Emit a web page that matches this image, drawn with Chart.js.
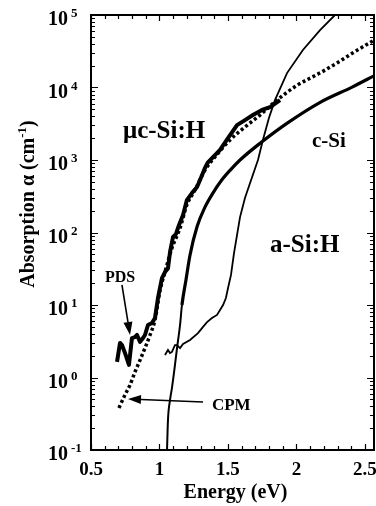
<!DOCTYPE html>
<html>
<head>
<meta charset="utf-8">
<script src="https://cdn.jsdelivr.net/npm/chart.js@4"></script>
<style>
  html, body { margin: 0; padding: 0; background: #fff; }
  #wrap { width: 376px; height: 506px; }
</style>
</head>
<body>
<div id="wrap"><canvas id="chart" width="376" height="506"></canvas></div>
<script>
// energy (eV) / absorption (cm-1)
var cSiE   = [1.055, 1.062, 1.077, 1.091, 1.113, 1.128, 1.15, 1.164, 1.193, 1.223, 1.274, 1.332, 1.39, 1.449, 1.515, 1.588, 1.734, 1.93, 2.17, 2.41, 2.566];
var cSiA   = [0.1, 0.26, 0.49, 0.72, 1.49, 2.55, 5.3, 10, 22, 49, 120, 224, 350, 513, 720, 1000, 1700, 3200, 6200, 10200, 14500];

var aSiE   = [1.04, 1.062, 1.077, 1.091, 1.113, 1.128, 1.15, 1.172, 1.223, 1.281, 1.318, 1.347, 1.383, 1.42, 1.464, 1.485, 1.50, 1.522, 1.544, 1.566, 1.588, 1.624, 1.66, 1.719, 1.755, 1.799, 1.843, 1.931, 2.047, 2.172, 2.281];
var aSiA   = [2.04, 2.4, 2.18, 2.25, 2.8, 2.8, 2.55, 2.9, 3.3, 4.1, 5.0, 5.8, 6.6, 7.3, 10, 12.5, 17, 26, 52, 92, 163, 300, 475, 1000, 1890, 3800, 6700, 15800, 32900, 62000, 100000];

var pdsE   = [0.69, 0.712, 0.726, 0.748, 0.777, 0.799, 0.821, 0.836, 0.858, 0.88, 0.894, 0.916, 0.945, 0.967, 0.989, 1.018, 1.04, 1.062, 1.077, 1.099, 1.12, 1.142, 1.172, 1.20, 1.237, 1.274, 1.296, 1.332, 1.354, 1.398, 1.442, 1.50, 1.566, 1.624, 1.682, 1.748, 1.807, 1.88];
var pdsA   = [1.64, 3.0, 2.8, 2.18, 1.49, 3.5, 3.6, 3.86, 3.1, 3.5, 3.86, 5.3, 5.65, 6.6, 12.5, 23.5, 28.5, 32, 54, 87, 95, 126, 175, 280, 350, 425, 530, 775, 930, 1135, 1380, 2000, 3030, 3550, 4170, 4900, 5370, 6700];

var cpmE   = [0.704, 0.748, 0.785, 0.821, 0.858, 0.894, 0.931, 0.967, 1.004, 1.04, 1.091, 1.15, 1.20, 1.259, 1.332, 1.405, 1.515, 1.624, 1.734, 1.858, 2.004, 2.17, 2.296, 2.41, 2.566];
var cpmA   = [0.38, 0.575, 0.79, 1.19, 1.74, 2.55, 3.86, 6.2, 16, 28.5, 61, 115, 240, 385, 725, 1100, 1890, 2850, 4170, 6700, 10700, 15800, 21800, 29900, 45000];

var xTicks = [0.5, 1, 1.5, 2, 2.5];
var xTickLabels = ['0.5', '1', '1.5', '2', '2.5'];
var yExps  = [-1, 0, 1, 2, 3, 4, 5];

var SERIF = '"Liberation Serif", "DejaVu Serif", serif';

function pts(xs, ys) {
  return xs.map(function(x, i) { return { x: x, y: ys[i] }; });
}

// frame, inward ticks, labels and arrows
var decor = {
  id: 'decor',
  afterDraw: function(chart) {
    var ctx = chart.ctx, a = chart.chartArea;
    var xs = chart.scales.x, ys = chart.scales.y;
    ctx.save();
    ctx.strokeStyle = '#000';
    ctx.fillStyle = '#000';

    ctx.lineWidth = 2;
    ctx.strokeRect(a.left, a.top, a.right - a.left, a.bottom - a.top);

    ctx.lineWidth = 1.2;
    ctx.beginPath();
    for (var e = 5; e <= 25; e++) {
      var px = Math.round(xs.getPixelForValue(e / 10)) + 0.5;
      var len = (e % 5 === 0) ? 6 : 4;
      ctx.moveTo(px, a.bottom); ctx.lineTo(px, a.bottom - len);
      ctx.moveTo(px, a.top); ctx.lineTo(px, a.top + len);
    }
    for (var d = -1; d < 5; d++) {
      for (var m = 1; m < 10; m++) {
        var py = Math.round(ys.getPixelForValue(m * Math.pow(10, d))) + 0.5;
        var l = (m === 1) ? 7 : 4;
        ctx.moveTo(a.left, py); ctx.lineTo(a.left + l, py);
        ctx.moveTo(a.right, py); ctx.lineTo(a.right - l, py);
      }
    }
    ctx.stroke();

    // y tick labels 10^n
    yExps.forEach(function(n) {
      var py = ys.getPixelForValue(Math.pow(10, n));
      ctx.font = 'bold 20px ' + SERIF;
      ctx.textAlign = 'right';
      ctx.textBaseline = 'alphabetic';
      ctx.fillText('10', 68, py + 10);
      ctx.font = 'bold 13px ' + SERIF;
      ctx.textAlign = 'left';
      ctx.fillText(n < 0 ? '-' + (-n) : String(n), 71, py + 2);
    });

    // x tick labels
    ctx.font = 'bold 19px ' + SERIF;
    ctx.textAlign = 'center';
    xTicks.forEach(function(v, i) {
      ctx.fillText(xTickLabels[i], xs.getPixelForValue(v), 475);
    });

    ctx.font = 'bold 20px ' + SERIF;
    ctx.fillText('Energy (eV)', (a.left + a.right) / 2 + 3, 498);

    // y title, rotated, with superscript
    ctx.save();
    ctx.translate(34, 204);
    ctx.rotate(-Math.PI / 2);
    var f1 = 'bold 20px ' + SERIF, f2 = 'bold 13px ' + SERIF;
    ctx.font = f1;
    var t1 = 'Absorption \u03b1 (cm', t3 = ')';
    var w1 = ctx.measureText(t1).width, w3 = ctx.measureText(t3).width;
    ctx.font = f2;
    var w2 = ctx.measureText('-1').width;
    var x0 = -(w1 + w2 + w3) / 2;
    ctx.textAlign = 'left';
    ctx.font = f1; ctx.fillText(t1, x0, 0);
    ctx.font = f2; ctx.fillText('-1', x0 + w1, -8);
    ctx.font = f1; ctx.fillText(t3, x0 + w1 + w2, 0);
    ctx.restore();

    // curve labels at data positions
    function label(txt, e, al, size) {
      ctx.font = 'bold ' + size + 'px ' + SERIF;
      ctx.textAlign = 'left';
      ctx.fillText(txt, xs.getPixelForValue(e), ys.getPixelForValue(al));
    }
    label('\u03bcc-Si:H', 0.7336, 2010, 25);
    label('c-Si', 2.113, 1510, 21);
    label('a-Si:H', 1.8066, 53.8, 25);
    label('PDS', 0.602, 20.7, 16);
    label('CPM', 1.383, 0.356, 17);

    // arrows
    function arrow(e0, a0, e1, a1) {
      var x0 = xs.getPixelForValue(e0), y0 = ys.getPixelForValue(a0);
      var x1 = xs.getPixelForValue(e1), y1 = ys.getPixelForValue(a1);
      var ang = Math.atan2(y1 - y0, x1 - x0), hl = 13, hw = 4.5;
      ctx.lineWidth = 1.6;
      ctx.beginPath();
      ctx.moveTo(x0, y0);
      ctx.lineTo(x1 - hl * Math.cos(ang), y1 - hl * Math.sin(ang));
      ctx.stroke();
      ctx.beginPath();
      ctx.moveTo(x1, y1);
      ctx.lineTo(x1 - hl * Math.cos(ang) + hw * Math.sin(ang), y1 - hl * Math.sin(ang) - hw * Math.cos(ang));
      ctx.lineTo(x1 - hl * Math.cos(ang) - hw * Math.sin(ang), y1 - hl * Math.sin(ang) + hw * Math.cos(ang));
      ctx.closePath();
      ctx.fill();
    }
    arrow(0.726, 18.9, 0.785, 3.86);
    arrow(1.318, 0.459, 0.770, 0.505);

    ctx.restore();
  }
};

new Chart(document.getElementById('chart'), {
  type: 'line',
  data: {
    datasets: [
      {
        label: 'c-Si',
        data: pts(cSiE, cSiA),
        borderColor: '#000',
        borderWidth: 3,
        cubicInterpolationMode: 'monotone',
        segment: {
          borderWidth: function(c) { return c.p0.parsed.x < 1.16 ? 2 : 3.2; }
        },
        pointRadius: 0
      },
      {
        label: 'a-Si:H',
        data: pts(aSiE, aSiA),
        borderColor: '#000',
        borderWidth: 1.8,
        tension: 0,
        pointRadius: 0
      },
      {
        label: 'PDS',
        data: pts(pdsE, pdsA),
        borderColor: '#000',
        borderWidth: 4,
        tension: 0,
        borderJoinStyle: 'round',
        pointRadius: 0
      },
      {
        label: 'CPM',
        data: pts(cpmE, cpmA),
        borderColor: '#000',
        borderWidth: 3.5,
        borderDash: [3, 2.6],
        borderCapStyle: 'butt',
        cubicInterpolationMode: 'monotone',
        pointRadius: 0
      }
    ]
  },
  options: {
    responsive: false,
    animation: false,
    devicePixelRatio: 1,
    layout: { padding: { left: 91, right: 2, top: 15, bottom: 56 } },
    plugins: {
      legend: { display: false },
      tooltip: { enabled: false }
    },
    scales: {
      x: { type: 'linear', min: 0.5, max: 2.566, display: false },
      y: { type: 'logarithmic', min: 0.1, max: 100000, display: false }
    }
  },
  plugins: [decor]
});
</script>
</body>
</html>
